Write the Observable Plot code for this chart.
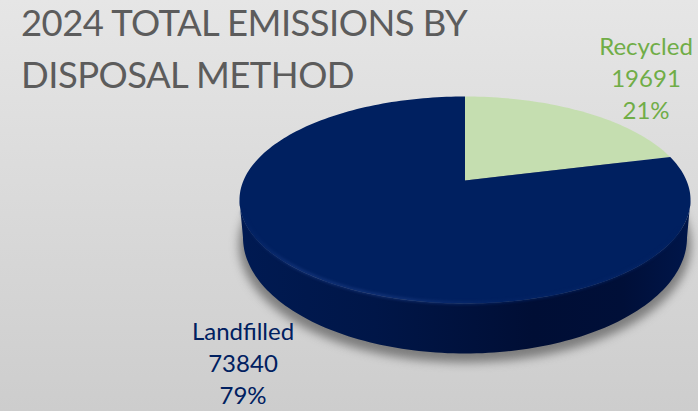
<!DOCTYPE html>
<html>
<head>
<meta charset="utf-8">
<script src="https://cdn.jsdelivr.net/npm/d3@7"></script>
<script src="https://cdn.jsdelivr.net/npm/@observablehq/plot@0.6"></script>
<style>
html,body{margin:0;padding:0;width:698px;height:411px;overflow:hidden;
  background:linear-gradient(180deg,#e6e6e6 0%,#cdcdcd 100%);}
#wrap{position:relative;width:698px;height:411px;}
#title{position:absolute;left:21px;top:-4px;font:400 36.5px/52px Lato,sans-serif;color:#5c5c5c;letter-spacing:-.55px;white-space:nowrap;}
svg{position:absolute;left:0;top:0;background:transparent!important;}
</style>
</head>
<body>
<div id="wrap">
<div id="title">2024 TOTAL EMISSIONS BY<br>DISPOSAL METHOD</div>
<div id="chart"></div>
</div>
<script>
const categories = ["Recycled", "Landfilled"];
const values = [19691, 73840];
const shares = [21, 79];
const sliceColors = ["#c5deb0", "#002060"];
const labelColors = ["#70ad47", "#002060"];

// perspective disc, origin at the pie's centre point
const R = 221.5, B = 99.8, K = -0.188;
const disc = (a) => {
  const u = Math.sin(a), v = -Math.cos(a), w = 1 + K * v;
  return {px: R * u / w, py: B * v / w};
};
const ell = (A, C, Bb, t0, t1, n = 120) =>
  d3.range(n + 1).map((i) => {
    const t = t0 + (t1 - t0) * i / n;
    return {px: A * Math.cos(t), py: C + Bb * Math.sin(t)};
  });

const arcs = d3.pie().sort(null).value((d) => d)(values);
const slices = arcs.flatMap((arc, i) => {
  const n = Math.max(2, Math.ceil((arc.endAngle - arc.startAngle) * 40));
  const pts = d3.range(n + 1).map((j) => disc(arc.startAngle + (arc.endAngle - arc.startAngle) * j / n));
  return [{px: 0, py: 0}, ...pts, {px: 0, py: 0}].map((p) => ({...p, name: categories[i]}));
});

const band = [...ell(225.5, 19.5, 103.5, 0, Math.PI), ...ell(222, 57, 116, Math.PI, 0)];
const shadow = ell(226, 64, 118, 0, 2 * Math.PI);
const rim = ell(224, 19.5, 103, 0.3, Math.PI - 0.12);
const rows = categories.map((name, i) => ({name, value: values[i], share: shares[i]}));
const label = (d) => `${d.name}\n${d.value}\n${d.share}%`;

const defs = () => {
  const svg = d3.create("svg:defs");
  const lin = (id, stops) => {
    const g = svg.append("linearGradient").attr("id", id);
    stops.forEach(([o, c]) => g.append("stop").attr("offset", o).attr("stop-color", c));
  };
  lin("side", [[0, "#001a52"], [.3, "#001648"], [.65, "#000e35"], [.85, "#000f38"], [1, "#00164a"]]);
  lin("rimG", [[0, "#002060"], [.12, "#183880"], [.35, "#1a3a80"], [.6, "#042466"], [.9, "#042466"], [1, "#002060"]]);
  return svg.node();
};

const chart = Plot.plot({
  width: 698, height: 411,
  margin: 0,
  x: {domain: [-464.5, 233.5], range: [0, 698], axis: null},
  y: {domain: [-180, 231], range: [0, 411], axis: null},
  style: {background: "transparent"},
  marks: [
    defs,
    Plot.line(shadow, {x: "px", y: "py", fill: "#444444", stroke: "none", fillOpacity: 0.6, imageFilter: "blur(5px)"}),
    Plot.line(band, {x: "px", y: "py", fill: "url(#side)", stroke: "none"}),
    Plot.line(slices, {x: "px", y: "py", z: "name", fill: (d) => sliceColors[categories.indexOf(d.name)], stroke: "none"}),
    Plot.line(rim, {x: "px", y: "py", stroke: "url(#rimG)", strokeWidth: 2.5, strokeOpacity: 0.85, imageFilter: "blur(1.5px)"}),
    Plot.text(rows.slice(0, 1), {text: label, x: () => 181, y: () => -148, fill: (d) => labelColors[0], fontSize: 24, lineHeight: 1.33, fontFamily: "Lato, sans-serif", lineAnchor: "top"}),
    Plot.text(rows.slice(1), {text: label, x: () => -222, y: () => 137, fill: (d) => labelColors[1], fontSize: 24, lineHeight: 1.33, fontFamily: "Lato, sans-serif", lineAnchor: "top"})
  ]
});
document.getElementById("chart").appendChild(chart);
</script>
</body>
</html>
